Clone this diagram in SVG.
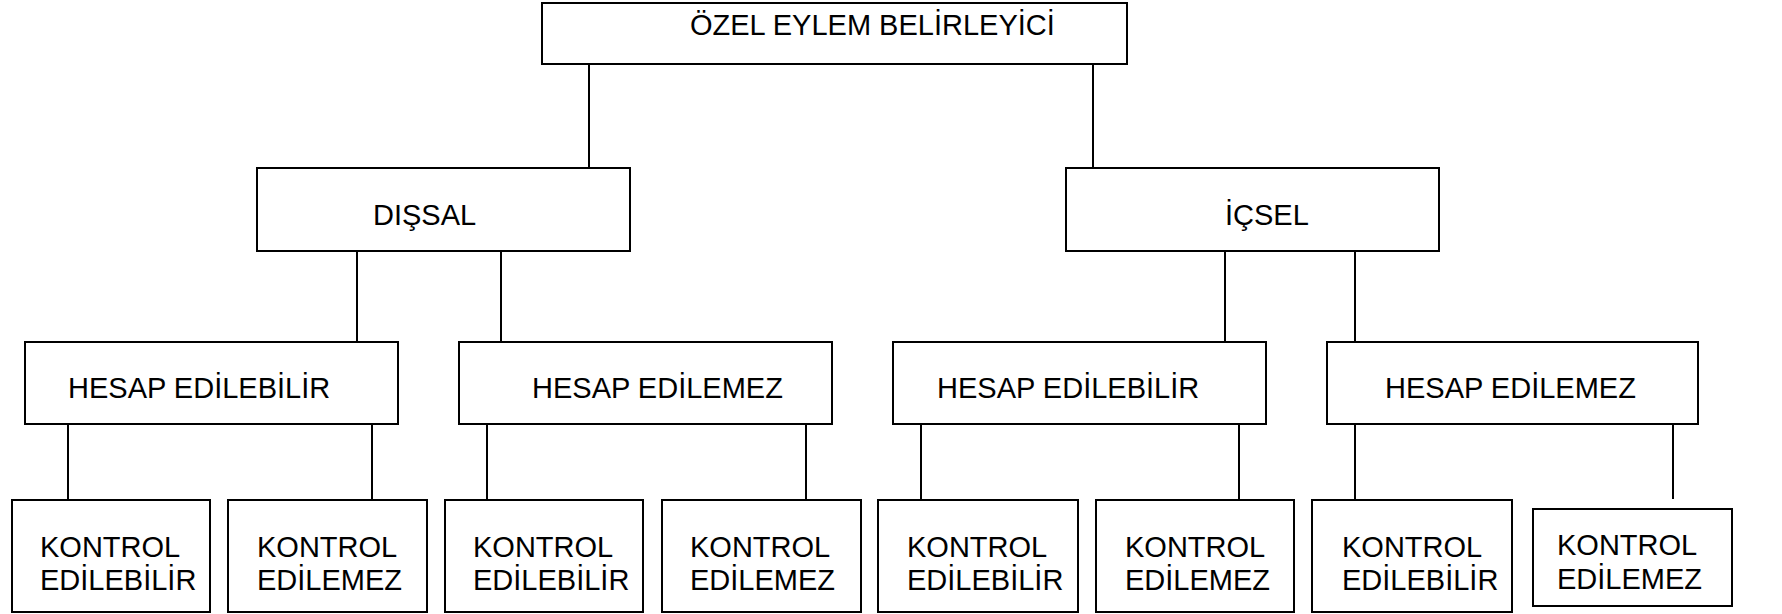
<svg xmlns="http://www.w3.org/2000/svg" width="1782" height="614" viewBox="0 0 1782 614">
  <style>
    .box { fill: #ffffff; stroke: #000000; stroke-width: 2; }
    .lbl { font-family: "Liberation Sans", Arial, sans-serif; font-size: 29px; fill: #000000; }
    .conn line { stroke: #000000; stroke-width: 2; }
  </style>
  <rect width="1782" height="614" fill="#ffffff"/>

  <!-- connectors -->
  <g id="connectors" class="conn">
    <line x1="589" y1="64" x2="589" y2="168"/>
    <line x1="1093" y1="64" x2="1093" y2="168"/>
    <line x1="357" y1="251" x2="357" y2="342"/>
    <line x1="501" y1="251" x2="501" y2="342"/>
    <line x1="1225" y1="251" x2="1225" y2="342"/>
    <line x1="1355" y1="251" x2="1355" y2="342"/>
    <line x1="68" y1="424" x2="68" y2="500"/>
    <line x1="372" y1="424" x2="372" y2="500"/>
    <line x1="487" y1="424" x2="487" y2="500"/>
    <line x1="806" y1="424" x2="806" y2="500"/>
    <line x1="921" y1="424" x2="921" y2="500"/>
    <line x1="1239" y1="424" x2="1239" y2="500"/>
    <line x1="1355" y1="424" x2="1355" y2="500"/>
    <line x1="1673" y1="424" x2="1673" y2="499"/>
  </g>

  <!-- root -->
  <g id="ozel-eylem-belirleyici">
    <rect class="box" x="542" y="3" width="585" height="61"/>
    <text class="lbl" x="690" y="35">ÖZEL EYLEM BELİRLEYİCİ</text>
  </g>

  <!-- second level -->
  <g id="dissal">
    <rect class="box" x="257" y="168" width="373" height="83"/>
    <text class="lbl" x="373" y="225">DIŞSAL</text>
  </g>
  <g id="icsel">
    <rect class="box" x="1066" y="168" width="373" height="83"/>
    <text class="lbl" x="1225" y="225">İÇSEL</text>
  </g>

  <!-- third level -->
  <g id="dissal-hesap-edilebilir">
    <rect class="box" x="25" y="342" width="373" height="82"/>
    <text class="lbl" x="68" y="398">HESAP EDİLEBİLİR</text>
  </g>
  <g id="dissal-hesap-edilemez">
    <rect class="box" x="459" y="342" width="373" height="82"/>
    <text class="lbl" x="532" y="398">HESAP EDİLEMEZ</text>
  </g>
  <g id="icsel-hesap-edilebilir">
    <rect class="box" x="893" y="342" width="373" height="82"/>
    <text class="lbl" x="937" y="398">HESAP EDİLEBİLİR</text>
  </g>
  <g id="icsel-hesap-edilemez">
    <rect class="box" x="1327" y="342" width="371" height="82"/>
    <text class="lbl" x="1385" y="398">HESAP EDİLEMEZ</text>
  </g>

  <!-- fourth level -->
  <g id="kontrol-1">
    <rect class="box" x="12" y="500" width="198" height="112"/>
    <text class="lbl" x="40" y="557">KONTROL</text>
    <text class="lbl" x="40" y="590">EDİLEBİLİR</text>
  </g>
  <g id="kontrol-2">
    <rect class="box" x="228" y="500" width="199" height="112"/>
    <text class="lbl" x="257" y="557">KONTROL</text>
    <text class="lbl" x="257" y="590">EDİLEMEZ</text>
  </g>
  <g id="kontrol-3">
    <rect class="box" x="445" y="500" width="198" height="112"/>
    <text class="lbl" x="473" y="557">KONTROL</text>
    <text class="lbl" x="473" y="590">EDİLEBİLİR</text>
  </g>
  <g id="kontrol-4">
    <rect class="box" x="662" y="500" width="199" height="112"/>
    <text class="lbl" x="690" y="557">KONTROL</text>
    <text class="lbl" x="690" y="590">EDİLEMEZ</text>
  </g>
  <g id="kontrol-5">
    <rect class="box" x="878" y="500" width="200" height="112"/>
    <text class="lbl" x="907" y="557">KONTROL</text>
    <text class="lbl" x="907" y="590">EDİLEBİLİR</text>
  </g>
  <g id="kontrol-6">
    <rect class="box" x="1096" y="500" width="198" height="112"/>
    <text class="lbl" x="1125" y="557">KONTROL</text>
    <text class="lbl" x="1125" y="590">EDİLEMEZ</text>
  </g>
  <g id="kontrol-7">
    <rect class="box" x="1312" y="500" width="200" height="112"/>
    <text class="lbl" x="1342" y="557">KONTROL</text>
    <text class="lbl" x="1342" y="590">EDİLEBİLİR</text>
  </g>
  <g id="kontrol-8">
    <rect class="box" x="1533" y="509" width="199" height="97"/>
    <text class="lbl" x="1557" y="555">KONTROL</text>
    <text class="lbl" x="1557" y="589">EDİLEMEZ</text>
  </g>
</svg>
